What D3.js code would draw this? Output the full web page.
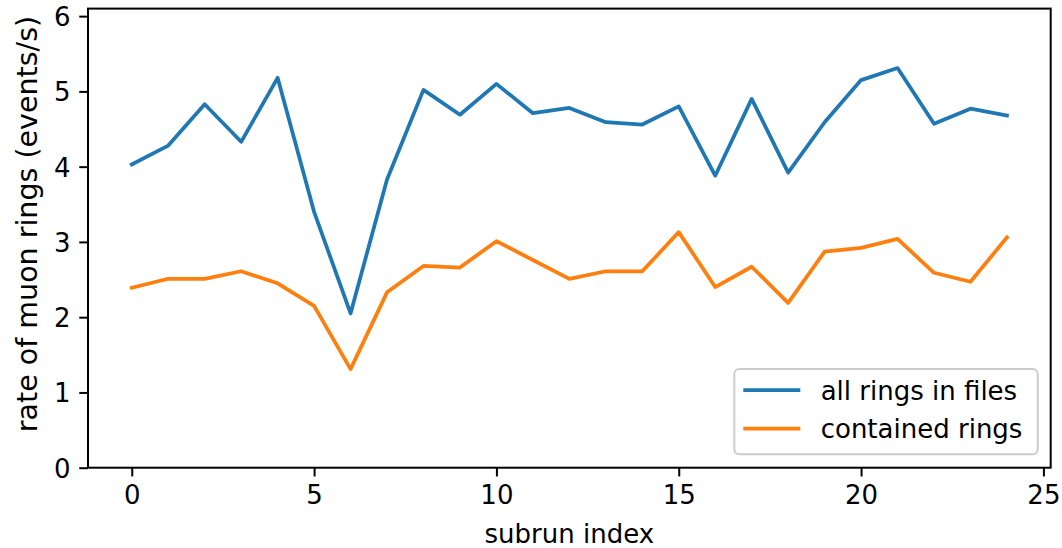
<!DOCTYPE html>
<html>
<head>
<meta charset="utf-8">
<script src="https://cdn.jsdelivr.net/npm/d3@7"></script>
<style>
  html, body { margin: 0; padding: 0; background: #ffffff; }
  svg { display: block; }
  text { font-family: "DejaVu Sans", sans-serif; fill: #000; }
</style>
</head>
<body>
<svg id="chart" width="1062" height="548"></svg>
<script>
// ---- data ----
const subrunIndex = d3.range(0, 25);
const allRings = [4.03, 4.28, 4.83, 4.33, 5.18, 3.40, 2.05, 3.83, 5.02, 4.69,
                  5.10, 4.71, 4.78, 4.59, 4.56, 4.80, 3.88, 4.90, 3.92, 4.59,
                  5.15, 5.31, 4.57, 4.77, 4.68];
const containedRings = [2.39, 2.51, 2.51, 2.61, 2.45, 2.15, 1.31, 2.33, 2.68, 2.66,
                        3.01, 2.76, 2.51, 2.61, 2.61, 3.13, 2.40, 2.67, 2.19, 2.87,
                        2.92, 3.04, 2.59, 2.47, 3.06];
const seriesNames = ["all rings in files", "contained rings"];
const xTicks = [0, 5, 10, 15, 20, 25];
const yTicks = [0, 1, 2, 3, 4, 5, 6];
const xLabel = "subrun index";
const yLabel = "rate of muon rings (events/s)";

// ---- layout ----
const W = 1062, H = 548;
const margin = {left: 88, right: 11.3, top: 8.6, bottom: 80.3};
const iw = W - margin.left - margin.right;
const ih = H - margin.top - margin.bottom;
const colors = ["#1f77b4", "#ff7f0e"];
const fs = 26;
const fsY = 28.5;

const svg = d3.select("#chart");
const g = svg.append("g").attr("transform", `translate(${margin.left},${margin.top})`);

const x = d3.scaleLinear().domain([-1.2, 25.2]).range([0, iw]);
const y = d3.scaleLinear().domain([0, 6.1]).range([ih, 0]);

// lines
const series = [allRings, containedRings];
const line = d3.line().x((d, i) => x(subrunIndex[i])).y(d => y(d));
series.forEach((s, k) => {
  g.append("path").datum(s)
    .attr("fill", "none")
    .attr("stroke", colors[k])
    .attr("stroke-width", 3.75)
    .attr("stroke-linejoin", "round")
    .attr("stroke-linecap", "square")
    .attr("d", line);
});

// axes
const xAxis = d3.axisBottom(x).tickValues(xTicks).tickFormat(d3.format("d"))
  .tickSize(8.75).tickPadding(8.75);
const yAxis = d3.axisLeft(y).tickValues(yTicks).tickFormat(d3.format("d"))
  .tickSize(8.75).tickPadding(8.75);

const gx = g.append("g").attr("transform", `translate(0,${ih})`).call(xAxis);
const gy = g.append("g").call(yAxis);
[gx, gy].forEach(a => {
  a.select(".domain").remove();
  a.selectAll(".tick line").attr("stroke", "#000").attr("stroke-width", 2);
  a.selectAll(".tick text").style("font-family", "DejaVu Sans, sans-serif")
    .style("font-size", fs + "px").attr("fill", "#000");
});
gx.selectAll(".tick text").attr("dy", "0.74em");
gy.selectAll(".tick text").attr("dy", "0.36em");

// frame
g.append("rect").attr("x", 0).attr("y", 0).attr("width", iw).attr("height", ih)
  .attr("fill", "none").attr("stroke", "#000").attr("stroke-width", 2);

// axis labels
svg.append("text")
  .attr("x", margin.left + iw / 2).attr("y", 542.5)
  .attr("text-anchor", "middle").style("font-size", fs + "px")
  .text(xLabel);
svg.append("text")
  .attr("transform", `translate(37,224) rotate(-90)`)
  .attr("text-anchor", "middle").style("font-size", fsY + "px")
  .text(yLabel);

// legend
const lg = g.append("g");
const lgW = 303.4, lgH = 85.3;
const lgX = iw - 13 - lgW, lgY = ih - 13.4 - lgH;
lg.append("rect").attr("x", lgX).attr("y", lgY).attr("width", lgW).attr("height", lgH)
  .attr("rx", 5).attr("ry", 5)
  .attr("fill", "rgba(255,255,255,0.8)").attr("stroke", "#cccccc").attr("stroke-width", 2);
seriesNames.forEach((name, k) => {
  const ly = lgY + 21 + k * 38.7;
  lg.append("line").attr("x1", lgX + 9).attr("x2", lgX + 66)
    .attr("y1", ly).attr("y2", ly)
    .attr("stroke", colors[k]).attr("stroke-width", 3.75);
  lg.append("text").attr("x", lgX + 86.4).attr("y", ly + 9.6)
    .style("font-size", fs + "px").text(name);
});
</script>
</body>
</html>
